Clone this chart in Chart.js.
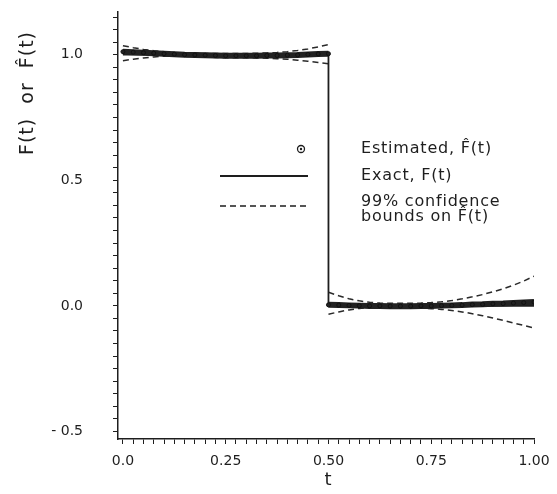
<!DOCTYPE html>
<html>
<head>
<meta charset="utf-8">
<script src="https://cdn.jsdelivr.net/npm/chart.js@4.4.1/dist/chart.umd.min.js"></script>
<style>
    html, body { margin: 0; padding: 0; background: #fff; }
    #wrap { width: 557px; height: 494px; }
</style>
</head>
<body>
<div id="wrap"><canvas id="chart" width="557" height="494"></canvas></div>
<script>
// t grid for each half of the interval
const tLeft = [0, 0.025, 0.05, 0.075, 0.1, 0.125, 0.15, 0.175, 0.2, 0.225, 0.25,
    0.275, 0.3, 0.325, 0.35, 0.375, 0.4, 0.425, 0.45, 0.475, 0.5];
const tRight = [0.5, 0.525, 0.55, 0.575, 0.6, 0.625, 0.65, 0.675, 0.7, 0.725, 0.75,
    0.775, 0.8, 0.825, 0.85, 0.875, 0.9, 0.925, 0.95, 0.975, 1.0];

// estimated F^(t)
const estLeft = [1.012, 1.010, 1.008, 1.006, 1.004, 1.002, 1.000, 0.999, 0.998, 0.997, 0.996,
    0.996, 0.996, 0.996, 0.997, 0.997, 0.998, 0.999, 1.001, 1.003, 1.004];
const estRight = [0.004, 0.003, 0.002, 0.001, 0.000, 0.000, -0.001, -0.001, -0.001, 0.000, 0.000,
    0.001, 0.002, 0.003, 0.005, 0.006, 0.008, 0.009, 0.011, 0.013, 0.015];

// 99% confidence bounds
const upperLeft = [1.036, 1.028, 1.021, 1.016, 1.012, 1.009, 1.007, 1.006, 1.005, 1.005, 1.005,
    1.005, 1.005, 1.006, 1.007, 1.009, 1.012, 1.017, 1.023, 1.031, 1.040];
const lowerLeft = [0.976, 0.982, 0.987, 0.991, 0.994, 0.995, 0.994, 0.992, 0.991, 0.989, 0.988,
    0.988, 0.988, 0.987, 0.986, 0.984, 0.982, 0.978, 0.974, 0.969, 0.964];
const upperRight = [0.054, 0.040, 0.028, 0.020, 0.014, 0.011, 0.010, 0.010, 0.010, 0.011, 0.013,
    0.016, 0.021, 0.028, 0.036, 0.045, 0.056, 0.068, 0.082, 0.099, 0.118];
const lowerRight = [-0.033, -0.024, -0.016, -0.010, -0.007, -0.006, -0.006, -0.007, -0.008, -0.009, -0.011,
    -0.014, -0.018, -0.024, -0.031, -0.039, -0.048, -0.058, -0.068, -0.078, -0.088];

// exact step function F(t)
const exactT = [0, 0.5, 0.5, 1.0];
const exactF = [1, 1, 0, 0];

// axis ticks
const xMajor = [0, 0.25, 0.5, 0.75, 1.0];
const xTickLabels = ['0.0', '0.25', '0.50', '0.75', '1.00'];
const yMajor = [-0.5, 0, 0.5, 1.0];
const yTickLabels = ['- 0.5', '0.0', '0.5', '1.0'];

const INK = '#1e1e1e';
const FONT = '"DejaVu Sans", sans-serif';

function joinHalves(ta, ya, tb, yb) {
    const pts = ta.map((t, i) => ({x: t, y: ya[i]}));
    pts.push({x: 0.5, y: null});
    return pts.concat(tb.map((t, i) => ({x: t, y: yb[i]})));
}

function minorTicks(from, to, step) {
    const out = [];
    const n = Math.round((to - from) / step);
    for (let i = 0; i <= n; i++) {
        out.push({value: Math.round((from + i * step) * 1000) / 1000});
    }
    return out;
}

function majorLabel(value, majors, labels) {
    const idx = majors.findIndex((m) => Math.abs(m - value) < 1e-6);
    return idx === -1 ? '' : labels[idx];
}

// keep the plot box fixed: no extra room for overhanging tick labels
function noOverhang(scale) {
    scale.paddingTop = 0;
    scale.paddingBottom = 0;
    scale.paddingLeft = 0;
    scale.paddingRight = 0;
}

const annotations = {
    id: 'annotations',
    afterDraw(chart) {
        const ctx = chart.ctx;
        ctx.save();
        ctx.fillStyle = INK;
        ctx.strokeStyle = INK;

        // axis titles
        ctx.textAlign = 'center';
        ctx.textBaseline = 'middle';
        ctx.save();
        ctx.font = '19px ' + FONT;
        ctx.letterSpacing = '1px';
        ctx.translate(28, 93);
        ctx.rotate(-Math.PI / 2);
        ctx.fillText('F(t)  or  F\u0302(t)', 0, 0);
        ctx.restore();
        ctx.font = '18px ' + FONT;
        ctx.fillText('t', 328, 480);

        // key
        ctx.lineWidth = 1.3;
        ctx.beginPath();
        ctx.arc(301, 149, 3.5, 0, Math.PI * 2);
        ctx.stroke();
        ctx.beginPath();
        ctx.arc(301, 149, 1.2, 0, Math.PI * 2);
        ctx.fill();

        ctx.lineWidth = 1.8;
        ctx.beginPath();
        ctx.moveTo(220, 176);
        ctx.lineTo(308, 176);
        ctx.stroke();

        ctx.lineWidth = 1.5;
        ctx.setLineDash([6, 4]);
        ctx.beginPath();
        ctx.moveTo(220, 206);
        ctx.lineTo(308, 206);
        ctx.stroke();
        ctx.setLineDash([]);

        ctx.font = '16px ' + FONT;
        ctx.letterSpacing = '0.8px';
        ctx.textAlign = 'left';
        ctx.fillText('Estimated, F\u0302(t)', 361, 149);
        ctx.fillText('Exact, F(t)', 361, 176);
        ctx.fillText('99% confidence', 361, 202);
        ctx.fillText('bounds on F\u0302(t)', 361, 217);
        ctx.restore();
    },
};

new Chart(document.getElementById('chart'), {
    type: 'line',
    data: {
        datasets: [
            {
                label: 'Estimated',
                data: joinHalves(tLeft, estLeft, tRight, estRight),
                borderColor: '#222',
                backgroundColor: '#222',
                borderWidth: 6,
                pointRadius: 2,
                pointBorderWidth: 1,
                pointBorderColor: '#111',
                spanGaps: false,
                order: 1,
            },
            {
                label: 'Exact',
                data: exactT.map((t, i) => ({x: t, y: exactF[i]})),
                borderColor: INK,
                borderWidth: 1.8,
                pointRadius: 0,
                order: 2,
            },
            {
                label: 'Upper bound',
                data: joinHalves(tLeft, upperLeft, tRight, upperRight),
                borderColor: '#2a2a2a',
                borderWidth: 1.5,
                borderDash: [6, 4],
                pointRadius: 0,
                order: 3,
            },
            {
                label: 'Lower bound',
                data: joinHalves(tLeft, lowerLeft, tRight, lowerRight),
                borderColor: '#2a2a2a',
                borderWidth: 1.5,
                borderDash: [6, 4],
                pointRadius: 0,
                order: 3,
            },
        ],
    },
    options: {
        responsive: false,
        animation: false,
        layout: {
            padding: {top: 12, right: 23, left: 0, bottom: 0},
        },
        plugins: {
            legend: {display: false},
            tooltip: {enabled: false},
        },
        scales: {
            x: {
                type: 'linear',
                min: -0.012,
                max: 1.0,
                afterBuildTicks(scale) {
                    scale.ticks = minorTicks(0, 1, 0.025);
                },
                afterFit(scale) {
                    scale.height = 55;
                    noOverhang(scale);
                },
                ticks: {
                    autoSkip: false,
                    maxRotation: 0,
                    padding: 9,
                    color: INK,
                    font: {family: FONT, size: 14},
                    callback(value) {
                        return majorLabel(value, xMajor, xTickLabels);
                    },
                },
                grid: {
                    drawOnChartArea: false,
                    drawTicks: true,
                    tickLength: 5,
                    color: INK,
                },
                border: {display: true, color: INK, width: 1.5},
            },
            y: {
                type: 'linear',
                min: -0.53,
                max: 1.17,
                afterBuildTicks(scale) {
                    scale.ticks = minorTicks(-0.5, 1.15, 0.05);
                },
                afterFit(scale) {
                    scale.width = 118;
                    noOverhang(scale);
                },
                ticks: {
                    autoSkip: false,
                    padding: 30,
                    color: INK,
                    font: {family: FONT, size: 14},
                    callback(value) {
                        return majorLabel(value, yMajor, yTickLabels);
                    },
                },
                grid: {
                    drawOnChartArea: false,
                    drawTicks: true,
                    tickLength: 5,
                    color: INK,
                },
                border: {display: true, color: INK, width: 1.5},
            },
        },
    },
    plugins: [annotations],
});
</script>
</body>
</html>
